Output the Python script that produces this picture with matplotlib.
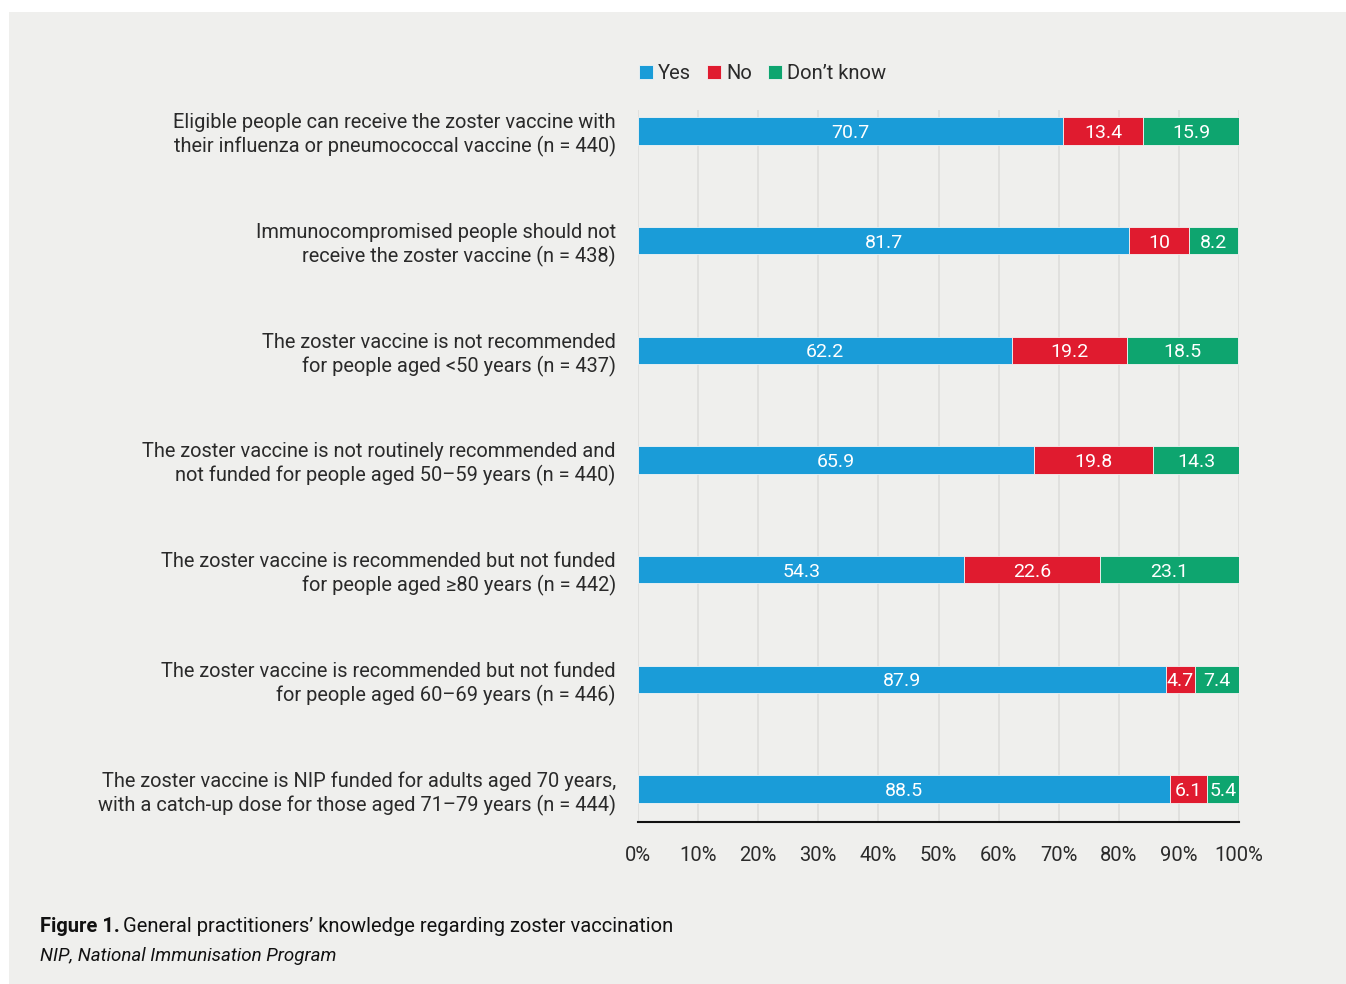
import matplotlib.pyplot as plt
import matplotlib.transforms as mtransforms
from matplotlib.patches import Rectangle

# Data
statements = [
    "Eligible people can receive the zoster vaccine with\ntheir influenza or pneumococcal vaccine (n = 440)",
    "Immunocompromised people should not\nreceive the zoster vaccine (n = 438)",
    "The zoster vaccine is not recommended\nfor people aged <50 years (n = 437)",
    "The zoster vaccine is not routinely recommended and\nnot funded for people aged 50\u201359 years (n = 440)",
    "The zoster vaccine is recommended but not funded\nfor people aged \u226580 years (n = 442)",
    "The zoster vaccine is recommended but not funded\nfor people aged 60\u201369 years (n = 446)",
    "The zoster vaccine is NIP funded for adults aged 70 years,\nwith a catch-up dose for those aged 71\u201379 years (n = 444)",
]
yes = [70.7, 81.7, 62.2, 65.9, 54.3, 87.9, 88.5]
no = [13.4, 10, 19.2, 19.8, 22.6, 4.7, 6.1]
dont_know = [15.9, 8.2, 18.5, 14.3, 23.1, 7.4, 5.4]
series_names = ["Yes", "No", "Don\u2019t know"]
colors = ["#1a9cd8", "#e01b2f", "#0ea56f"]
xticks = [0, 10, 20, 30, 40, 50, 60, 70, 80, 90, 100]

plt.rcParams["font.family"] = ["Roboto", "DejaVu Sans"]
text_color = "#2a2a2a"
bg = "#efefed"

fig = plt.figure(figsize=(13.46, 9.84), dpi=100, facecolor="white")
fig.patches.append(Rectangle((9 / 1346, 0), 1, 1 - 12 / 984, transform=fig.transFigure,
                             facecolor=bg, edgecolor="none", zorder=-10))

ax = fig.add_axes([638 / 1346, 1 - 822 / 984, 601 / 1346, 712 / 984])
ax.set_facecolor(bg)

# small downward nudge for text, in pixels at 100 dpi
down2 = mtransforms.ScaledTranslation(0, -2 / 100, fig.dpi_scale_trans)
down4 = mtransforms.ScaledTranslation(0, -4 / 100, fig.dpi_scale_trans)

ypos = list(range(len(statements)))
left = [0] * len(statements)
for name, vals, col in zip(series_names, [yes, no, dont_know], colors):
    bars = ax.barh(ypos, vals, left=left, height=0.25, color=col, label=name,
                   edgecolor="#f4f4f4", linewidth=0.6, zorder=3)
    for b, v in zip(bars, vals):
        ax.text(b.get_x() + b.get_width() / 2, b.get_y() + b.get_height() / 2,
                f"{v:g}", ha="center", va="center", color="white",
                fontsize=14, zorder=4, transform=ax.transData + down2)
    left = [l + v for l, v in zip(left, vals)]

ax.set_xlim(0, 100)
ax.set_ylim(6.30, -0.19)
ax.set_yticks(ypos)
ax.set_yticklabels(statements, fontsize=14.4, color=text_color, linespacing=1.25)
for lbl in ax.get_yticklabels():
    lbl.set_transform(lbl.get_transform() + down4)
ax.set_xticks(xticks)
ax.set_xticklabels([f"{t}%" for t in xticks], fontsize=14.5, color=text_color)
ax.tick_params(axis="y", length=0, pad=16)
ax.tick_params(axis="x", length=0, pad=17)
ax.grid(axis="x", color="#dededc", linewidth=1.2, zorder=0)
for s in ["top", "right", "left"]:
    ax.spines[s].set_visible(False)
ax.spines["bottom"].set_color("#111111")
ax.spines["bottom"].set_linewidth(1.5)

leg = ax.legend(loc="lower left", bbox_to_anchor=(-0.012, 1.026), ncol=3, frameon=False,
                fontsize=14.5, handlelength=0.7, handleheight=0.7, handletextpad=0.25,
                columnspacing=0.8, borderaxespad=0)
for t in leg.get_texts():
    t.set_color(text_color)

fig.text(40 / 1346, 1 - 926 / 984, "Figure 1.", fontsize=14.5, fontweight="bold",
         color="#111111", va="center")
fig.text(123 / 1346, 1 - 926 / 984, "General practitioners\u2019 knowledge regarding zoster vaccination",
         fontsize=14.5, color="#111111", va="center")
fig.text(40 / 1346, 1 - 956 / 984, "NIP, National Immunisation Program", fontsize=13.5,
         style="italic", color="#111111", va="center")

fig.savefig("out.png", dpi=100, facecolor=fig.get_facecolor())
